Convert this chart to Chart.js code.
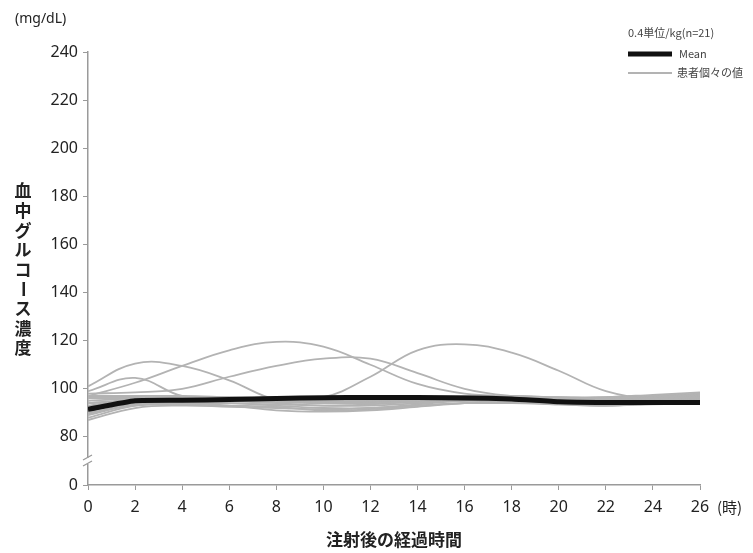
<!DOCTYPE html>
<html>
<head>
<meta charset="utf-8">
<script src="https://cdn.jsdelivr.net/npm/chart.js@4/dist/chart.umd.min.js"></script>
<style>
  html, body { margin: 0; padding: 0; background: #fff; }
  #wrap { width: 753px; height: 553px; }
</style>
</head>
<body>
<div id="wrap"><canvas id="glucoseChart" width="753" height="553"></canvas></div>
<script>
// 注射後の経過時間 (時)
const hours = [0, 2, 4, 6, 8, 10, 12, 14, 16, 18, 20, 22, 24, 26];
const yTicks = [60, 80, 100, 120, 140, 160, 180, 200, 220, 240]; // 60 は "0" 表示 (軸省略)

// Mean
const meanValues = [91.5, 95, 95.2, 95.5, 96, 96.3, 96.4, 96.4, 96.2, 95.8, 94.6, 94.3, 94.3, 94.3];

// 患者個々の値 (n=21)
const patientA = [101, 110.5, 109.5, 103.5, 95.5, 95.5, 95.5, 96, 96.5, 96, 95.5, 95.5, 96, 96.5];
const patientB = [99, 104.5, 97, 95.5, 95, 94.5, 95, 95.5, 96, 95.5, 95, 95, 95.5, 96];
const patientC = [97, 102.5, 109.5, 116, 119.5, 117.5, 110, 102, 98, 97, 96.5, 96, 96.5, 97];
const patientD = [98, 98.5, 100, 105, 109.5, 112.5, 112.5, 106.5, 100, 97, 96, 95.5, 96, 96.5];
const patientE = [94, 95.5, 96, 96, 96.5, 96.5, 105, 116, 118.5, 115, 107.5, 99, 96, 96];
const patientF1 = [87, 92, 93, 92.5, 92, 91.5, 92, 93, 94, 94, 93.5, 93, 94, 95];
const patientF2 = [88, 93, 94, 93, 91, 90.5, 91, 92.5, 94, 95, 94, 93, 94, 95.5];
const patientF3 = [89, 93.5, 94, 94, 93, 92, 92, 93.5, 95, 95, 94.5, 94, 95, 96];
const patientF4 = [89.5, 94, 95, 95.5, 95, 94, 94, 95, 96, 96, 95, 94.5, 95.5, 96.5];
const patientF5 = [90, 93, 93.5, 93, 92.5, 91, 91.5, 93, 94, 94.5, 93.5, 93, 93.5, 94];
const patientF6 = [90.5, 94.5, 95, 95.5, 95.5, 95, 95.5, 96, 96.5, 96.5, 95, 95, 96, 97];
const patientF7 = [91, 95, 96, 96, 96.5, 96.5, 96.5, 96.5, 96.5, 96, 95.5, 95.5, 96.5, 97.5];
const patientF8 = [91.5, 94, 94.5, 94, 93.5, 93, 93.5, 94.5, 95, 95, 94, 93.5, 94.5, 95];
const patientF9 = [92, 95.5, 96, 95, 94, 93, 93, 94, 95.5, 96, 95, 94.5, 95, 96];
const patientF10 = [92.5, 94, 95, 95.5, 95, 94.5, 94.5, 95.5, 96, 96, 95.5, 95, 95.5, 96];
const patientF11 = [93, 95.5, 96, 95.5, 95, 95, 95.5, 96, 96.5, 96.5, 96, 96, 97, 98];
const patientF12 = [94, 95, 95.5, 96, 96, 96, 96.5, 96.5, 96.5, 96.5, 96, 96.5, 97.5, 98.5];
const patientF13 = [95, 96, 96.5, 96.5, 96, 95.5, 95.5, 96, 96.5, 97, 96.5, 96.5, 97, 98];
const patientF14 = [96, 96, 95.5, 95, 94.5, 94, 94.5, 95, 96, 96.5, 95.5, 95, 96, 97];
const patientF15 = [96.5, 96.5, 96.5, 96, 95.5, 95.5, 96, 96.5, 97, 97, 96, 95.5, 96.5, 97];
const patientF16 = [97, 97, 97, 96.5, 96, 96.5, 96.5, 97, 97, 96.5, 96, 96, 96.5, 97.5];

const patients = [patientA, patientB, patientC, patientD, patientE,
  patientF1, patientF2, patientF3, patientF4, patientF5, patientF6, patientF7, patientF8,
  patientF9, patientF10, patientF11, patientF12, patientF13, patientF14, patientF15, patientF16];

const GRAY = '#b3b3b3';
const AXIS = '#9a9a9a';
const NUM_FONT = '"Noto Sans", "Open Sans", sans-serif';
const JP_FONT = '"Noto Sans CJK JP", sans-serif';

function toXY(vals) {
  return vals.map((v, i) => ({ x: hours[i], y: v }));
}

const datasets = [{
  label: 'Mean',
  data: toXY(meanValues),
  borderColor: '#111',
  borderWidth: 5,
  pointRadius: 0,
  tension: 0.15,
  order: 0
}];
patients.forEach((p, i) => {
  datasets.push({
    label: 'patient' + (i + 1),
    data: toXY(p),
    borderColor: GRAY,
    borderWidth: 1.8,
    pointRadius: 0,
    tension: 0.4,
    order: 1
  });
});

// 文字・凡例・軸の省略記号
const decorations = {
  id: 'decorations',
  afterDraw(chart) {
    const ctx = chart.ctx;
    const ys = chart.scales.y;
    ctx.save();

    // 軸の省略 (≈)
    const axX = ys.right;
    const yb = ys.getPixelForValue(70);
    ctx.fillStyle = '#fff';
    ctx.fillRect(axX - 3, yb - 3, 6, 6);
    ctx.strokeStyle = AXIS;
    ctx.lineWidth = 1.3;
    ctx.beginPath();
    ctx.moveTo(axX - 5, yb - 1); ctx.lineTo(axX + 4, yb - 6);
    ctx.moveTo(axX - 5, yb + 5); ctx.lineTo(axX + 4, yb);
    ctx.stroke();

    ctx.fillStyle = '#222';
    // 単位
    ctx.font = '14px ' + NUM_FONT;
    ctx.textAlign = 'left';
    ctx.textBaseline = 'middle';
    ctx.fillText('(mg/dL)', 15, 19);

    // (時)
    ctx.font = '15px ' + JP_FONT;
    ctx.fillText('(時)', 717, 507);

    // 縦軸タイトル
    const title = '血中グルコース濃度';
    ctx.font = 'bold 17px ' + JP_FONT;
    ctx.textAlign = 'center';
    for (let i = 0; i < title.length; i++) {
      const cy = 191 + i * 19.6;
      const ch = title[i];
      if (ch === 'ー') {
        ctx.save();
        ctx.translate(23, cy);
        ctx.rotate(Math.PI / 2);
        ctx.fillText(ch, 0, 0);
        ctx.restore();
      } else {
        ctx.fillText(ch, 23, cy);
      }
    }

    // 横軸タイトル
    ctx.font = 'bold 17px ' + JP_FONT;
    ctx.fillText('注射後の経過時間', 394, 540);

    // 凡例
    ctx.textAlign = 'left';
    ctx.fillStyle = '#444';
    ctx.font = '11px ' + JP_FONT;
    ctx.fillText('0.4単位/kg(n=21)', 628, 33);
    ctx.strokeStyle = '#111';
    ctx.lineWidth = 5;
    ctx.beginPath(); ctx.moveTo(628, 54); ctx.lineTo(672, 54); ctx.stroke();
    ctx.fillText('Mean', 679, 54);
    ctx.strokeStyle = GRAY;
    ctx.lineWidth = 1.8;
    ctx.beginPath(); ctx.moveTo(628, 73); ctx.lineTo(672, 73); ctx.stroke();
    ctx.fillText('患者個々の値', 677, 73);

    ctx.restore();
  }
};

new Chart(document.getElementById('glucoseChart'), {
  type: 'line',
  data: { datasets: datasets },
  options: {
    responsive: false,
    animation: false,
    layout: { padding: { top: 52, right: 53, left: 0, bottom: 0 } },
    plugins: { legend: { display: false }, tooltip: { enabled: false } },
    scales: {
      x: {
        type: 'linear',
        min: 0,
        max: 26,
        afterFit: s => { s.height = 68; },
        ticks: { stepSize: 2, color: '#222', font: { size: 16, family: NUM_FONT }, padding: 8, maxRotation: 0 },
        grid: { drawOnChartArea: false, drawTicks: true, tickLength: 5, color: AXIS },
        border: { color: AXIS, width: 1.5 }
      },
      y: {
        min: 60,
        max: 240,
        afterFit: s => { s.width = 88; },
        afterBuildTicks: s => { s.ticks = yTicks.map(v => ({ value: v })); },
        ticks: {
          color: '#222',
          font: { size: 16, family: NUM_FONT },
          padding: 5,
          callback: v => (v === 60 ? '0' : v)
        },
        grid: { drawOnChartArea: false, drawTicks: true, tickLength: 5, color: AXIS },
        border: { color: AXIS, width: 1.5 }
      }
    }
  },
  plugins: [decorations]
});
</script>
</body>
</html>
